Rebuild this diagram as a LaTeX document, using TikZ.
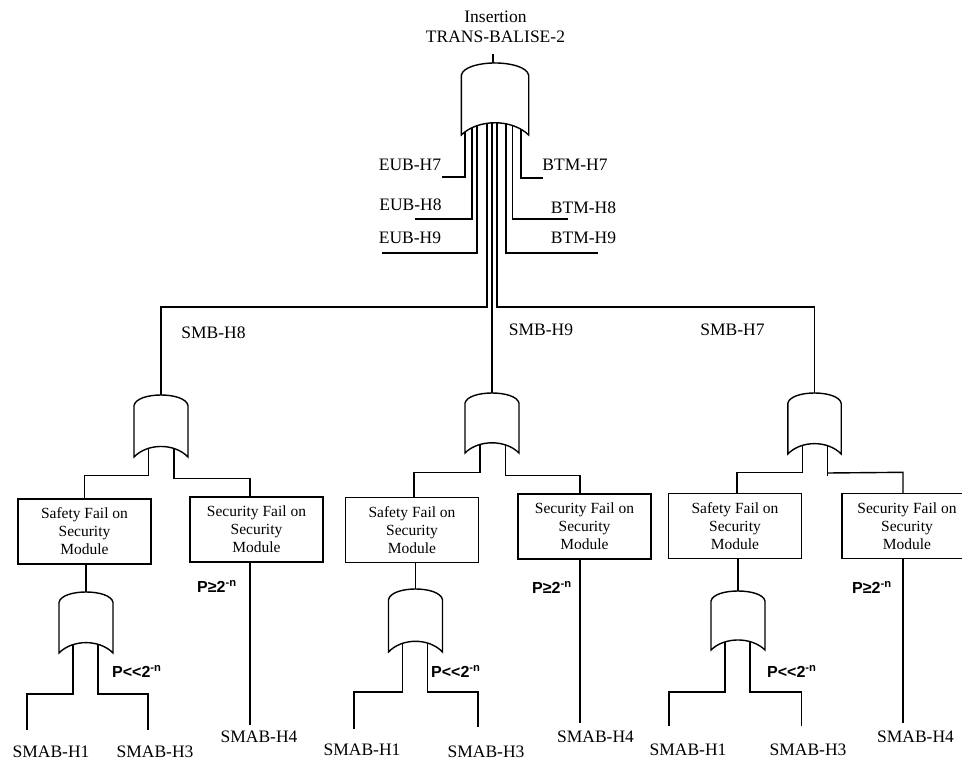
\documentclass[tikz,border=0pt]{standalone}
\usepackage{fontspec}
\setmainfont{Liberation Serif}
\newfontfamily\psans{Liberation Sans}
\usetikzlibrary{calc}
\pgfdeclarelayer{bg}
\pgfsetlayers{bg,main}
\tikzset{
  ln/.style={line width=1.4pt, line join=miter},
  lbl/.style={font=\fontsize{17.5}{20}\selectfont, inner sep=0pt},
  evbox/.style={draw, ln, align=center, minimum width=133pt, minimum height=65pt,
     inner sep=0pt, font=\fontsize{15.5}{18}\selectfont},
  plbl/.style={font=\psans\bfseries\fontsize{16}{18}\selectfont, inner sep=0pt, anchor=base west},
  pics/orgate/.style 2 args={code={
    \draw[ln, fill=white] ({-#1},{0.17*#2})
        .. controls ({-0.9*#1},{-0.0567*#2}) and ({0.9*#1},{-0.0567*#2}) .. ({#1},{0.17*#2})
        -- ({#1},{#2})
        .. controls ({0.5*#1},{#2-0.2267*#2}) and ({-0.5*#1},{#2-0.2267*#2}) .. ({-#1},{#2})
        -- cycle;
    \coordinate (-top) at (0,0);
    \coordinate (-bot) at (0,{#2});
  }}
}
\begin{document}
\begin{tikzpicture}[x=1pt,y=-1pt]
\path[use as bounding box] (0,0) rectangle (962,763);
\clip (0,0) rectangle (962,763);

% title
\node[lbl, align=center] (title) at (495.5,27) {Insertion\\TRANS-BALISE-2};

% gates
\pic (g0) at (495,63) {orgate={33.7}{72}};
\pic (gA) at (161,395) {orgate={27}{62}};
\pic (gB) at (492,393) {orgate={27}{60}};
\pic (gC) at (814.5,393) {orgate={26.7}{61}};
\pic (ga) at (86,592) {orgate={27}{61}};
\pic (gb) at (415.5,589) {orgate={27}{63}};
\pic (gc) at (738,591) {orgate={27}{59}};

% boxes
\node[evbox] (sfL) at (84.5,531.5) {Safety Fail on\\Security\\Module};
\node[evbox] (scL) at (256.5,529.5) {Security Fail on\\Security\\Module};
\node[evbox] (sfM) at (412,530) {Safety Fail on\\Security\\Module};
\node[evbox] (scM) at (584.5,526.5) {Security Fail on\\Security\\Module};
\node[evbox] (sfR) at (735,526) {Safety Fail on\\Security\\Module};
\node[evbox, minimum width=130pt] (scR) at (907,526) {Security Fail on\\Security\\Module};

% labels
\node[lbl] (eub7) at (410,165) {EUB-H7};
\node[lbl] (eub8) at (410.5,205) {EUB-H8};
\node[lbl] (eub9) at (410,238) {EUB-H9};
\node[lbl] (btm7) at (575,165) {BTM-H7};
\node[lbl] (btm8) at (583.5,208) {BTM-H8};
\node[lbl] (btm9) at (583.5,238) {BTM-H9};
\node[lbl] (smb8) at (213.5,333) {SMB-H8};
\node[lbl] (smb9) at (541,330) {SMB-H9};
\node[lbl] (smb7) at (732.5,330) {SMB-H7};

\node[lbl] (s1L) at (51,752) {SMAB-H1};
\node[lbl] (s3L) at (155,752) {SMAB-H3};
\node[lbl] (s4L) at (259,737) {SMAB-H4};
\node[lbl] (s1M) at (362,750) {SMAB-H1};
\node[lbl] (s3M) at (486,752) {SMAB-H3};
\node[lbl] (s4M) at (595.5,737) {SMAB-H4};
\node[lbl] (s1R) at (688,750) {SMAB-H1};
\node[lbl] (s3R) at (808,750) {SMAB-H3};
\node[lbl] (s4R) at (915.5,737) {SMAB-H4};

\node[plbl] (pgL) at (197,592.7) {P≥2\textsuperscript{-n}};
\node[plbl] (pgM) at (532,593.7) {P≥2\textsuperscript{-n}};
\node[plbl] (pgR) at (852,593.7) {P≥2\textsuperscript{-n}};
\node[plbl] (plL) at (112,677.7) {P<<2\textsuperscript{-n}};
\node[plbl] (plM) at (431,677.7) {P<<2\textsuperscript{-n}};
\node[plbl] (plR) at (767,677.7) {P<<2\textsuperscript{-n}};

% free wire ends
\coordinate (e7) at (442,177);
\coordinate (e8) at (415,219);
\coordinate (e9) at (382,253);
\coordinate (b7) at (543,178);
\coordinate (b8) at (568,219);
\coordinate (b9) at (598,253);
\coordinate (h1L) at (27,730);
\coordinate (h3L) at (148,730);
\coordinate (h4L) at (250,725);
\coordinate (h1M) at (354,729);
\coordinate (h3M) at (478,727);
\coordinate (h4M) at (580,723);
\coordinate (h1R) at (669,726);
\coordinate (h3R) at (801.7,726);
\coordinate (h4R) at (903,723);

\begin{pgfonlayer}{bg}
% top gate output
\draw[ln] (g0-top) -- ++(-2,0) -- ++(0,-9);
% top gate inputs
\draw[ln] ($(g0-bot)+(-30,-12)$) |- (e7);
\draw[ln] ($(g0-bot)+(-23,-12)$) |- (e8);
\draw[ln] ($(g0-bot)+(-18,-12)$) |- (e9);
\draw[ln] ($(g0-bot)+(-8,-12)$) -- ++(0,184) -| (gA-top);
\draw[ln] ($(g0-bot)+(-3,-12)$) -- (gB-top);
\draw[ln] ($(g0-bot)+(2,-12)$) -- ++(0,184) -| (gC-top);
\draw[ln] ($(g0-bot)+(11,-12)$) |- (b9);
\draw[ln] ($(g0-bot)+(17.7,-12)$) |- (b8);
\draw[ln] ($(g0-bot)+(26,-12)$) |- (b7);

% mid gates to boxes
\draw[ln] ($(gA-bot)+(-12.5,-8)$) |- ($(sfL.north)+(0,-23)$) -- (sfL.north);
\draw[ln] ($(gA-bot)+(13,-8)$) |- ($(scL.north)+(-6.5,-18)$) -- ($(scL.north)+(-6.5,0)$);
\draw[ln] ($(gB-bot)+(-12,-8)$) |- ($(sfM.north)+(2,-24.5)$) -- ($(sfM.north)+(2,0)$);
\draw[ln] ($(gB-bot)+(13.5,-8)$) |- ($(scM.north)+(-4.5,-18)$) -- ($(scM.north)+(-4.5,0)$);
\draw[ln] ($(gC-bot)+(-12,-8)$) |- ($(sfR.north)+(2,-20.5)$) -- ($(sfR.north)+(2,0)$);
\draw[ln] ($(gC-bot)+(13,-8)$) -- ++(0,30);
\draw[ln] ($(gC-bot)+(13,19)$) -- ($(scR.north)+(-4,-20.5)$) -- ($(scR.north)+(-4,0)$);

% boxes to low gates
\draw[ln] (ga-top |- sfL.south) -- (ga-top);
\draw[ln] (gb-top |- sfM.south) -- (gb-top);
\draw[ln] (gc-top |- sfR.south) -- (gc-top);

% low gate outputs
\draw[ln] ($(ga-bot)+(-13,-8)$) -- ++(0,49) -| (h1L);
\draw[ln] ($(ga-bot)+(12,-8)$) -- ++(0,49) -| (h3L);
\draw[ln] ($(gb-bot)+(-13,-8)$) -- ++(0,48) -| (h1M);
\draw[ln] ($(gb-bot)+(12,-8)$) -- ++(0,48) -| (h3M);
\draw[ln] ($(gc-bot)+(-13,-8)$) -- ++(0,50) -| (h1R);
\draw[ln] ($(gc-bot)+(12,-8)$) -- ++(0,50) -| (h3R);

% security module lines
\draw[ln] ($(scL.south)+(-6.5,0)$) -- (h4L);
\draw[ln] ($(scM.south)+(-4.5,0)$) -- (h4M);
\draw[ln] ($(scR.south)+(-4,0)$) -- (h4R);
\end{pgfonlayer}
\end{tikzpicture}
\end{document}
